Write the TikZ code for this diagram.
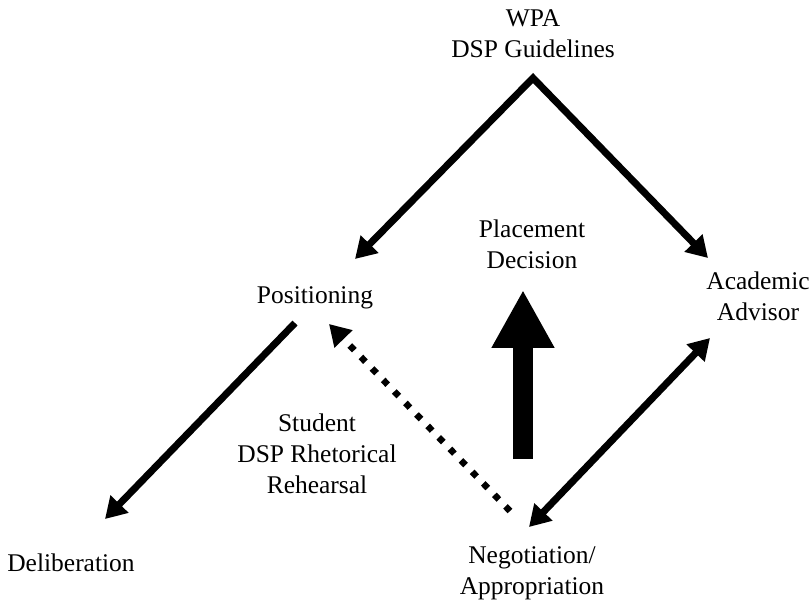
\documentclass[tikz,border=0pt]{standalone}
\usepackage{fontspec}
\setmainfont{Liberation Serif}
\usetikzlibrary{arrows.meta,positioning}

\begin{document}
\begin{tikzpicture}[x=0.02cm, y=-0.02cm, >={Triangle[length=11.9pt,width=13.6pt]},
  term/.style={align=center, inner sep=0pt, anchor=base, font=\fontsize{14.5}{17.5}\selectfont},
  flow/.style={line width=4pt, line join=miter},
  rehearse/.style={line width=3.7pt, dash pattern=on 3.7pt off 5.4pt},
  decide/.style={line width=11.3pt, -{Triangle[length=32.9pt,width=33.4pt]}}]

  \useasboundingbox (0,0) rectangle (811,602);

  % Define nodes (anchored at the baseline of the last line)
  \node[term] (wpa) at (533,57) {WPA\\DSP Guidelines};
  \node[term] (decision) at (532,268) {Placement\\Decision};
  \node[term] (pos) at (315,303) {Positioning};
  \node[term] (advisor) at (758,320) {Academic\\Advisor};
  \node[term] (student) at (317,493) {Student\\DSP Rhetorical\\Rehearsal};
  \node[term] (delib) at (71,571) {Deliberation};
  \node[term] (nego) at (532,594) {Negotiation/\\Appropriation};

  % Arrow ends
  \coordinate (apex) at (533,78);
  \coordinate (posin) at (355,259);
  \coordinate (advin) at (708,258);
  \coordinate (posout) at (295,323);
  \coordinate (delibin) at (105,519);
  \coordinate (negoup) at (510,511);
  \coordinate (posback) at (329,324);
  \coordinate (negoin) at (529,527);
  \coordinate (advout) at (710,338);
  \coordinate (choice) at (523,459);
  \coordinate (choicetip) at (523,290);

  % Draw arrows
  \draw[flow, <->] (posin) -- (apex) -- (advin);
  \draw[flow, ->] (posout) -- (delibin);
  \draw[flow, <->] (negoin) -- (advout);
  \draw[rehearse, ->] (negoup) -- (posback);
  \draw[decide] (choice) -- (choicetip);
\end{tikzpicture}
\end{document}
